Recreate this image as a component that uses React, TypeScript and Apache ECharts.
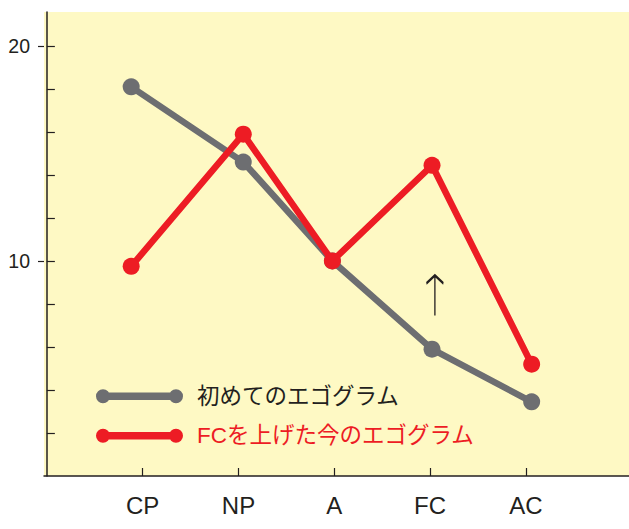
import React, { useEffect, useRef } from "react";
import * as echarts from "echarts";

const categories = ["CP", "NP", "A", "FC", "AC"];
const categoryTicks = [1, 2, 3, 4, 5];
const pointX = [0.88, 2.05, 2.98, 4.02, 5.06];
const firstEgogram = [18.1, 14.6, 10.0, 5.9, 3.45];
const raisedFC = [9.75, 15.9, 10.0, 14.45, 5.2];
const yMinorTicks = [2, 4, 6, 8, 10, 12, 14, 16, 18, 20];
const yMajorTicks = [10, 20];
const seriesNames = ["初めてのエゴグラム", "FCを上げた今のエゴグラム"];
const arrowAt = [4.05, 8.4];

const INK = "#231f20";
const GRAY = "#6d6e71";
const RED = "#ed1c24";
const YELLOW = "#fef9c4";
const LATIN = "'Liberation Sans', Arial, 'Noto Sans CJK JP', sans-serif";

const legendIcon =
  "path://M0,7 A7,7 0 1,1 14,7 A7,7 0 1,1 0,7 Z M73,7 A7,7 0 1,1 87,7 A7,7 0 1,1 73,7 Z M7,3.25 L80,3.25 L80,10.75 L7,10.75 Z";

export default function App() {
  const ref = useRef<HTMLDivElement>(null);
  useEffect(() => {
    if (!ref.current) return;
    const chart = echarts.init(ref.current, null, { renderer: "svg" });
    const toPairs = (vals: number[]) => vals.map((v, i) => [pointX[i], v]);
    chart.setOption({
      animation: false,
      backgroundColor: "#ffffff",
      grid: {
        left: 44,
        top: 12,
        right: 0,
        bottom: 53,
        show: true,
        backgroundColor: YELLOW,
        borderWidth: 0,
      },
      legend: {
        orient: "vertical",
        left: 96,
        top: 385,
        padding: 0,
        itemWidth: 87,
        itemHeight: 14,
        itemGap: 17,
        icon: legendIcon,
        selectedMode: false,
        textStyle: {
          fontFamily: LATIN,
          fontSize: 22.5,
          lineHeight: 22,
          padding: [0, 0, 0, 9],
        },
        data: [
          { name: seriesNames[0], textStyle: { color: INK } },
          { name: seriesNames[1], textStyle: { color: RED } },
        ],
      },
      xAxis: {
        type: "value",
        min: -0.03,
        max: 6.076,
        splitLine: { show: false },
        axisLine: { show: true, lineStyle: { color: INK, width: 1.5 } },
        axisTick: {
          show: true,
          inside: true,
          length: 8,
          customValues: categoryTicks,
          lineStyle: { color: INK, width: 1.2 },
        },
        axisLabel: {
          customValues: categoryTicks,
          formatter: (v: number) => categories[Math.round(v) - 1] ?? "",
          color: INK,
          fontFamily: LATIN,
          fontSize: 24,
          margin: 17,
        },
      },
      yAxis: [
        {
          type: "value",
          min: 0,
          max: 21.58,
          splitLine: { show: false },
          axisLine: { show: true, lineStyle: { color: INK, width: 1.5 } },
          axisTick: {
            show: true,
            inside: true,
            length: 8,
            customValues: yMinorTicks,
            lineStyle: { color: INK, width: 1.2 },
          },
          axisLabel: { show: false },
        },
        {
          type: "value",
          position: "left",
          offset: 0,
          min: 0,
          max: 21.58,
          splitLine: { show: false },
          axisLine: { show: false },
          axisTick: {
            show: true,
            inside: false,
            length: 6,
            customValues: yMajorTicks,
            lineStyle: { color: INK, width: 1.2 },
          },
          axisLabel: {
            customValues: yMajorTicks,
            color: INK,
            fontFamily: LATIN,
            fontSize: 19.5,
            margin: 14,
          },
        },
      ],
      series: [
        {
          name: seriesNames[0],
          type: "line",
          data: toPairs(firstEgogram),
          symbol: "circle",
          symbolSize: 17,
          lineStyle: { color: GRAY, width: 6.5 },
          itemStyle: { color: GRAY },
          emphasis: { disabled: true },
          z: 2,
        },
        {
          name: seriesNames[1],
          type: "line",
          data: toPairs(raisedFC),
          symbol: "circle",
          symbolSize: 17,
          lineStyle: { color: RED, width: 6.5 },
          itemStyle: { color: RED },
          emphasis: { disabled: true },
          z: 3,
          markPoint: {
            silent: true,
            symbol: "path://M0,8 L8.5,0 L17,8 M8.5,0 L8.5,40",
            symbolSize: [17, 40],
            itemStyle: { color: "transparent", borderColor: INK, borderWidth: 2 },
            label: { show: false },
            data: [{ coord: arrowAt }],
          },
        },
      ],
    });
    return () => chart.dispose();
  }, []);
  return (
    <div
      ref={ref}
      style={{ position: "fixed", left: 0, top: 0, width: 629, height: 529 }}
    />
  );
}
